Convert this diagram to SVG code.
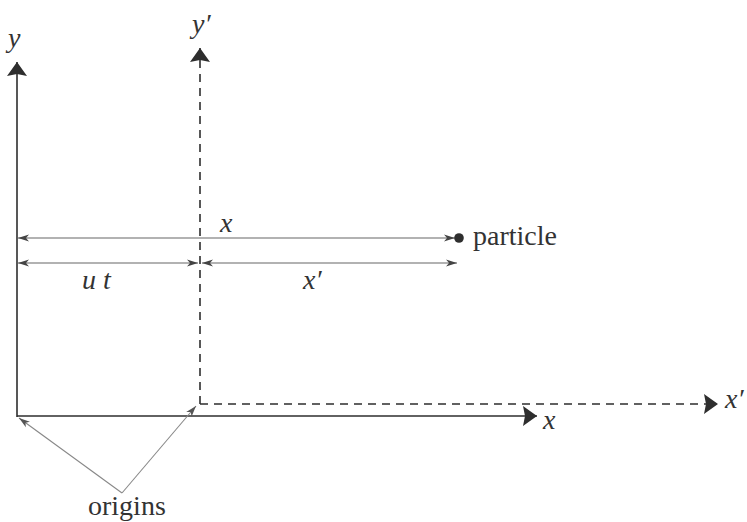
<svg xmlns="http://www.w3.org/2000/svg" width="747" height="522" viewBox="0 0 747 522">
<style>
.ax{stroke:#2e2e2e;stroke-width:1.6;fill:none}
.dash{stroke-dasharray:8 6}
.dim{stroke:#666;stroke-width:1.1;fill:none}
.org{stroke:#888;stroke-width:1.1;fill:none}
.t{font-size:28px;fill:#333}
.m{font-style:italic;font-size:28px;fill:#333}
</style>
<defs>
<marker id="big" markerUnits="userSpaceOnUse" viewBox="-16 -11 18 22" refX="0" refY="0" markerWidth="18" markerHeight="22" orient="auto">
<path d="M0,0 L-14,-10 L-12,0 L-14,10 Z" fill="#2e2e2e"/>
</marker>
<marker id="sm" markerUnits="userSpaceOnUse" viewBox="-13 -5 14 10" refX="0" refY="0" markerWidth="14" markerHeight="10" orient="auto-start-reverse">
<path d="M0,0 L-11,-3.5 L-8,0 L-11,3.5 Z" fill="#444"/>
</marker>
<marker id="smg" markerUnits="userSpaceOnUse" viewBox="-13 -5 14 10" refX="0" refY="0" markerWidth="14" markerHeight="10" orient="auto">
<path d="M0,0 L-11,-3.5 L-8,0 L-11,3.5 Z" fill="#555"/>
</marker>
</defs>
<g id="connectors">
<line id="y-axis" class="ax" x1="17" y1="417" x2="17" y2="62" marker-end="url(#big)"/>
<line id="x-axis" class="ax" x1="17" y1="416" x2="537" y2="416" marker-end="url(#big)"/>
<line id="yp-axis" class="ax dash" x1="200" y1="404" x2="200" y2="48" marker-end="url(#big)"/>
<line id="xp-axis" class="ax dash" x1="200" y1="404" x2="718" y2="404" marker-end="url(#big)"/>
<line id="dim-x" class="dim" x1="18" y1="238" x2="455" y2="238" marker-start="url(#sm)" marker-end="url(#sm)"/>
<line id="dim-ut" class="dim" x1="18" y1="263" x2="198" y2="263" marker-start="url(#sm)" marker-end="url(#sm)"/>
<line id="dim-xp" class="dim" x1="202" y1="263" x2="457" y2="263" marker-start="url(#sm)" marker-end="url(#sm)"/>
<line id="org-1" class="org" x1="122" y1="493" x2="19" y2="418" marker-end="url(#smg)"/>
<line id="org-2" class="org" x1="122" y1="493" x2="196" y2="406" marker-end="url(#smg)"/>
</g>
<g id="particle" font-family="Liberation Serif, DejaVu Serif, serif">
<circle cx="459" cy="238" r="4.8" fill="#2e2e2e"/>
<text class="t" x="473" y="245">particle</text>
</g>
<g id="labels" font-family="Liberation Serif, DejaVu Serif, serif">
<text id="lbl-y" class="m" x="8" y="47">y</text>
<text id="lbl-yp" class="m" x="192" y="33">y′</text>
<text id="lbl-x-axis" class="m" x="543" y="429">x</text>
<text id="lbl-xp-axis" class="m" x="725" y="408">x′</text>
<text id="lbl-x" class="m" x="220" y="232">x</text>
<text id="lbl-ut" class="m" x="82" y="289">u t</text>
<text id="lbl-xp" class="m" x="303" y="289">x′</text>
</g>
<g id="origins" font-family="Liberation Serif, DejaVu Serif, serif">
<text class="t" x="88" y="515">origins</text>
</g>
</svg>
